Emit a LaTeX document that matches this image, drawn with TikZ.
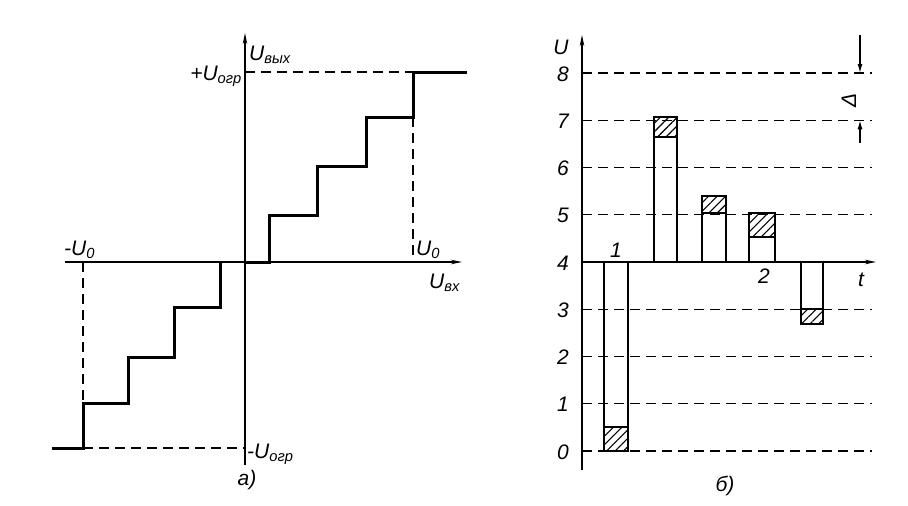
\documentclass[tikz,border=0pt]{standalone}
\usepackage{fontspec}
\setmainfont{Liberation Sans}
\usetikzlibrary{positioning,arrows.meta,patterns.meta}

\begin{document}
\begin{tikzpicture}[x=1pt,y=-1pt,
  axis/.style={line width=1.5pt,-{Stealth[length=11pt,width=4.5pt]}},
  stair/.style={line width=3pt},
  guide/.style={line width=1.4pt,dash pattern=on 10pt off 6pt},
  bar/.style={line width=2.8pt},
  hatch/.style={pattern={Lines[angle=45,distance=6pt,line width=1.1pt]}},
  dim/.style={line width=1.3pt,-{Latex[length=9pt,width=5pt]}},
  lbl/.style={font=\fontsize{21}{23}\selectfont\itshape,inner sep=0pt}]
\useasboundingbox (0,0) rectangle (908,506);

% a)
\def\ox{245};
\def\oy{262};
\coordinate (o) at (\ox,\oy);
\coordinate (xs) at (65,\oy);
\coordinate (xe) at (462,\oy);
\coordinate (ys) at (\ox,465);
\coordinate (ye) at (\ox,33);
\draw[axis] (xs) -- (xe);
\draw[axis] (ys) -- (ye);

\draw[guide] (\ox,72) -- (413,72);
\draw[guide] (413,117) -- (413,\oy);
\draw[guide] (83,\oy) -- (83,403);
\draw[guide] (83,448) -- (\ox,448);
\draw[stair] (o) -- (269,\oy) |- (317,215) |- (366,166) |- (413,117) |- (467,72);
\draw[stair] (220,\oy) |- (174,307) |- (128,357) |- (83,403) |- (52,448);

\node[lbl,anchor=base west] (uout) at (249,60) {U\textsubscript{вых}};
\node[lbl,anchor=base east] (uplus) at (242,80) {+U\textsubscript{огр}};
\node[lbl,anchor=base west] (uminus) at (247,458) {-U\textsubscript{огр}};
\node[lbl,anchor=base west] (uo) at (416,255) {U\textsubscript{0}};
\node[lbl,anchor=base west] (muo) at (64,255) {-U\textsubscript{0}};
\node[lbl,anchor=base west] (uin) at (429,288) {U\textsubscript{вх}};
\node[lbl] (capa) at (247,480) {а)};

% b)
\def\lx{582};
\def\yz{451};
\def\dy{47.25};
\draw[axis] (\lx,470) -- (\lx,35);
\foreach \k in {0,1,2,3,5,6,7,8}
  \draw[guide] (\lx,{\yz-\k*\dy}) -- (872,{\yz-\k*\dy});
\foreach \k in {0,...,8}
  \node[lbl,anchor=east] (l\k) at (569,{\yz-\k*\dy+1}) {\k};
\draw[axis] (\lx,\oy) -- (876,\oy);

\foreach \xa/\xb/\ya/\hb in {604/628/451/427, 654/677/117/137,
    702/726/196/213, 749/775/213/237, 801/823/324/309} {
  \draw[bar,hatch] (\xa,\ya) rectangle (\xb,\hb);
  \draw[bar] (\xa,\oy) rectangle (\xb,\ya);
}

\coordinate (dt) at (860,35);
\coordinate (d8) at (860,{\yz-8*\dy});
\coordinate (d7) at (860,{\yz-7*\dy});
\coordinate (db) at (860,143);
\draw[dim] (dt) -- (d8);
\draw[dim] (db) -- (d7);
\node[lbl,rotate=90] (delta) at (849,100) {Δ};

\node[lbl] (u) at (561,47) {U};
\node[lbl] (t) at (861,280) {t};
\node[lbl] (n1) at (616,250) {1};
\node[lbl] (n2) at (764,276) {2};
\node[lbl] (capb) at (725,486) {б)};
\end{tikzpicture}
\end{document}
